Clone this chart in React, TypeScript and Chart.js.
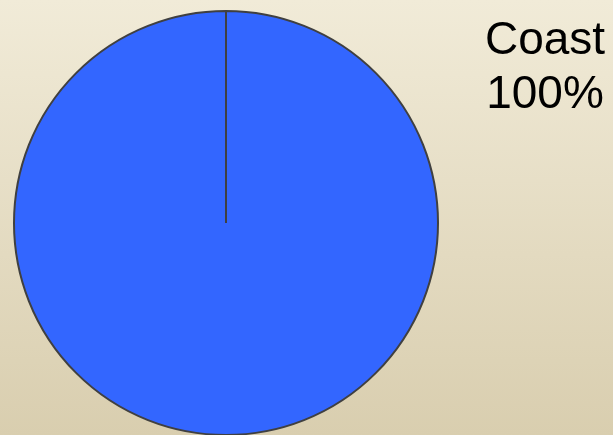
import React, { useEffect, useRef } from "react";
import { Chart, registerables } from "chart.js";

Chart.register(...registerables);

const categories = ["Coast"];
const values = [100];
const percentLabels = ["100%"];
const sliceColors = ["#3366FF"];

const labelPlugin = {
  id: "sideLabel",
  afterDraw(chart: any) {
    const ctx = chart.ctx;
    const ds = chart.data.datasets[0];
    ctx.save();
    ctx.fillStyle = "#000000";
    ctx.font = "46px 'Liberation Sans', Arial, sans-serif";
    ctx.textAlign = "center";
    ctx.textBaseline = "alphabetic";
    const x = 545;
    (chart.data.labels as string[]).forEach((lab: string, i: number) => {
      if (!ds.data[i]) return;
      ctx.fillText(lab, x, 54);
      ctx.fillText(percentLabels[i], x, 108);
    });
    ctx.restore();
  },
};

export default function App() {
  const ref = useRef<HTMLCanvasElement>(null);
  useEffect(() => {
    document.body.style.margin = "0";
    const chart = new Chart(ref.current!, {
      type: "pie",
      data: {
        labels: categories,
        datasets: [
          {
            data: values,
            backgroundColor: sliceColors,
            borderColor: "#404040",
            borderWidth: 2,
          },
        ],
      },
      options: {
        animation: false,
        responsive: false,
        maintainAspectRatio: false,
        layout: { padding: { left: 13, right: 174, top: 10, bottom: 0 } },
        plugins: {
          legend: { display: false },
          tooltip: { enabled: false },
        },
      },
      plugins: [labelPlugin],
    });
    return () => chart.destroy();
  }, []);
  return (
    <div
      style={{
        width: 613,
        height: 435,
        background: "linear-gradient(to bottom, #F1EBD8 0%, #D9CEAF 100%)",
        overflow: "hidden",
      }}
    >
      <canvas ref={ref} width={613} height={436} style={{ display: "block" }} />
    </div>
  );
}
